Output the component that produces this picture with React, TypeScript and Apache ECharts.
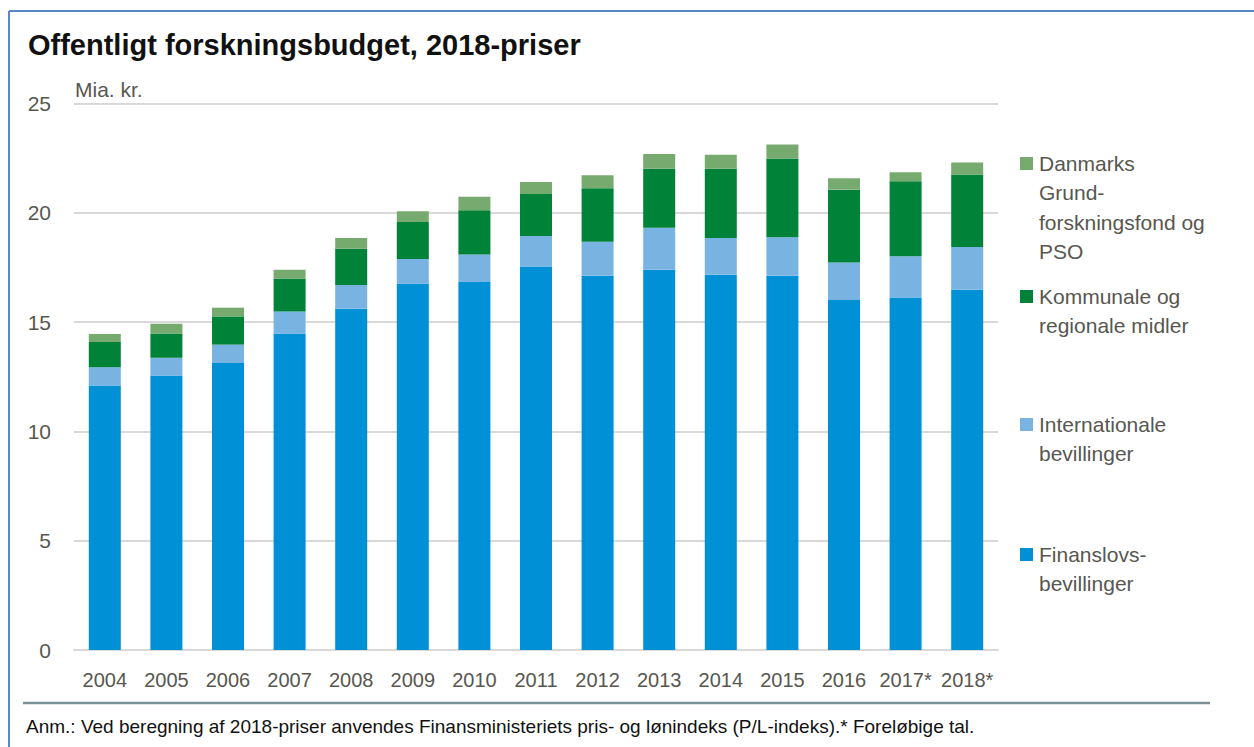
import React, { useEffect, useRef } from "react";
import * as echarts from "echarts";

const years = ["2004", "2005", "2006", "2007", "2008", "2009", "2010", "2011", "2012", "2013", "2014", "2015", "2016", "2017*", "2018*"];
const finanslov = [12.1, 12.56, 13.13, 14.48, 15.61, 16.77, 16.83, 17.54, 17.12, 17.4, 17.17, 17.12, 16.01, 16.13, 16.48];
const international = [0.83, 0.81, 0.84, 1.01, 1.09, 1.12, 1.26, 1.4, 1.55, 1.92, 1.68, 1.76, 1.72, 1.88, 1.96];
const kommunal = [1.16, 1.11, 1.29, 1.5, 1.66, 1.69, 2.03, 1.92, 2.45, 2.7, 3.16, 3.6, 3.33, 3.43, 3.31];
const grundfond = [0.36, 0.45, 0.4, 0.41, 0.49, 0.49, 0.61, 0.55, 0.6, 0.67, 0.65, 0.64, 0.52, 0.42, 0.55];

const seriesNames = [
  "Finanslovs-bevillinger",
  "Internationale bevillinger",
  "Kommunale og regionale midler",
  "Danmarks Grundforskningsfond og PSO",
];
const legendLines = [
  ["Finanslovs-", "bevillinger"],
  ["Internationale", "bevillinger"],
  ["Kommunale og", "regionale midler"],
  ["Danmarks", "Grund-", "forskningsfond og", "PSO"],
];
const colors = ["#0090d5", "#78b3e2", "#008238", "#77aa6f"];
const legendTops = [554, 424, 296, 163];

const FONT = "'Liberation Sans', Arial, sans-serif";
const TXT = "#57574f";

export default function App() {
  const ref = useRef<HTMLDivElement>(null);
  useEffect(() => {
    if (!ref.current) return;
    const chart = echarts.init(ref.current, null, { renderer: "svg" });
    const data = [finanslov, international, kommunal, grundfond];
    const legendGraphics: any[] = [];
    legendLines.forEach((lines, i) => {
      const top = legendTops[i];
      legendGraphics.push({
        type: "rect",
        shape: { x: 1020, y: top - 6, width: 13, height: 13 },
        style: { fill: colors[i] },
      });
      legendGraphics.push({
        type: "text",
        x: 1039,
        y: top - 14.75,
        style: {
          text: lines.join("\n"),
          font: `21px ${FONT}`,
          fill: TXT,
          lineHeight: 29.5,
          verticalAlign: "top",
        },
      });
    });

    chart.setOption({
      animation: false,
      backgroundColor: "#ffffff",
      grid: { left: 74, right: 256, top: 103.5, bottom: 97 },
      xAxis: {
        type: "category",
        data: years,
        axisLine: { show: true, lineStyle: { color: "#d9d9d9", width: 2 } },
        axisTick: { show: false },
        axisLabel: { color: TXT, fontSize: 20, fontFamily: FONT, margin: 20, interval: 0 },
      },
      yAxis: {
        type: "value",
        min: 0,
        max: 25,
        interval: 5,
        axisLine: { show: false },
        axisTick: { show: false },
        splitLine: { lineStyle: { color: "#d9d9d9", width: 2 } },
        axisLabel: { color: TXT, fontSize: 21, fontFamily: FONT, margin: 23 },
      },
      series: seriesNames.map((name, i) => ({
        name,
        type: "bar",
        stack: "total",
        barWidth: 32,
        data: data[i],
        itemStyle: { color: colors[i] },
      })),
      graphic: [
        {
          type: "line",
          shape: { x1: 9, y1: 11, x2: 9, y2: 747 },
          style: { stroke: "#5b87c6", lineWidth: 2 },
        },
        {
          type: "line",
          shape: { x1: 9, y1: 11, x2: 1254, y2: 11 },
          style: { stroke: "#5b87c6", lineWidth: 2 },
        },
        {
          type: "text",
          x: 28,
          y: 45,
          style: {
            text: "Offentligt forskningsbudget, 2018-priser",
            font: `bold 29px ${FONT}`,
            fill: "#111111",
            verticalAlign: "middle",
          },
        },
        {
          type: "text",
          x: 75,
          y: 89,
          style: {
            text: "Mia. kr.",
            font: `21px ${FONT}`,
            fill: TXT,
            verticalAlign: "middle",
          },
        },
        {
          type: "line",
          shape: { x1: 23, y1: 703, x2: 1210, y2: 703 },
          style: { stroke: "#7b9196", lineWidth: 2.5 },
        },
        {
          type: "text",
          x: 26,
          y: 726,
          style: {
            text: "Anm.: Ved beregning af 2018-priser anvendes Finansministeriets pris- og lønindeks (P/L-indeks).* Foreløbige tal.",
            font: `19px ${FONT}`,
            fill: "#111111",
            verticalAlign: "middle",
          },
        },
        ...legendGraphics,
      ],
    });
    return () => chart.dispose();
  }, []);
  return (
    <div
      ref={ref}
      style={{ position: "absolute", left: 0, top: 0, width: 1254, height: 747, background: "#fff" }}
    />
  );
}
